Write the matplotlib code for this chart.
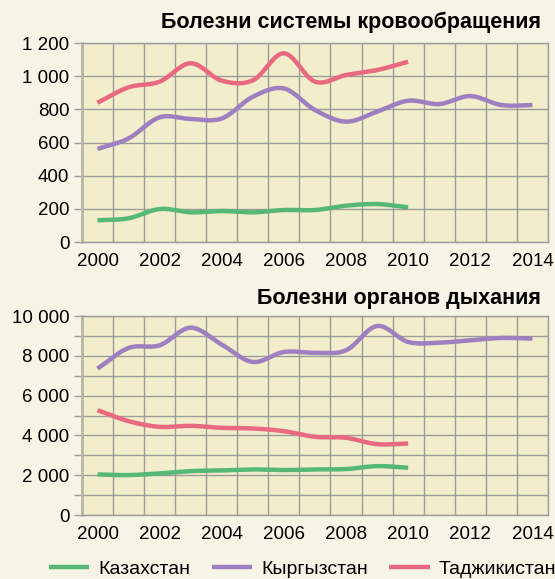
import numpy as np
import matplotlib
matplotlib.use("Agg")
import matplotlib.pyplot as plt

plt.rcParams['font.family'] = ['Liberation Sans', 'DejaVu Sans']

years = np.arange(2000, 2015)
x_labels = [str(y) for y in range(2000, 2015, 2)]

# circulatory diseases
circ_kz = [131, 143, 199, 179, 187, 179, 193, 193, 219, 229, 209]
circ_kg = [561, 625, 752, 742, 745, 876, 926, 796, 726, 786, 852, 832, 880, 826, 826]
circ_tj = [840, 933, 967, 1078, 973, 975, 1138, 967, 1007, 1037, 1087]

# respiratory diseases
resp_kz = [2040, 2007, 2090, 2207, 2241, 2291, 2258, 2291, 2308, 2458, 2375]
resp_kg = [7358, 8395, 8528, 9415, 8562, 7692, 8194, 8150, 8278, 9498, 8696, 8662, 8779, 8896, 8863]
resp_tj = [5268, 4716, 4431, 4482, 4381, 4348, 4214, 3930, 3880, 3562, 3595]

names = ['Казахстан', 'Кыргызстан', 'Таджикистан']
colors = ['#55b874', '#9d80c0', '#e96a80']

bg = '#f6f4e4'
plot_bg = '#f2edcb'
grid_c = '#9c9c9c'


def smooth(x, y, n=20):
    # catmull-rom curve through the points, like excel "smoothed line"
    x = np.asarray(x, float)
    y = np.asarray(y, float)
    px = np.concatenate([[2 * x[0] - x[1]], x, [2 * x[-1] - x[-2]]])
    py = np.concatenate([[2 * y[0] - y[1]], y, [2 * y[-1] - y[-2]]])
    xs, ys = [], []
    t = np.linspace(0, 1, n)
    for i in range(1, len(px) - 2):
        for p, out in ((px, xs), (py, ys)):
            p0, p1, p2, p3 = p[i - 1], p[i], p[i + 1], p[i + 2]
            out.extend(0.5 * (2 * p1 + (-p0 + p2) * t
                              + (2 * p0 - 5 * p1 + 4 * p2 - p3) * t ** 2
                              + (-p0 + 3 * p1 - 3 * p2 + p3) * t ** 3))
    return np.array(xs), np.array(ys)


fig = plt.figure(figsize=(5.55, 5.79), dpi=100, facecolor=bg)
ax1 = fig.add_axes([0.1477, 0.582, 0.8396, 0.3437])
ax2 = fig.add_axes([0.1477, 0.1105, 0.8396, 0.3437])


def style(ax, ymax, step, label_step):
    ax.set_facecolor(plot_bg)
    ax.set_xlim(1999.5, 2014.5)
    ax.set_ylim(0, ymax)
    ax.set_xticks(np.arange(1999.5, 2015, 1), minor=True)
    ax.set_xticks(range(2000, 2015, 2))
    ax.set_xticklabels(x_labels)
    ax.set_yticks(np.arange(0, ymax + 1, step))
    ax.set_yticklabels([f'{v:,}'.replace(',', ' ') if v % label_step == 0 else ''
                        for v in np.arange(0, ymax + 1, step)])
    ax.grid(False)
    ax.grid(which='minor', axis='x', color=grid_c, lw=1.0)
    ax.grid(which='major', axis='y', color=grid_c, lw=1.0)
    ax.tick_params(axis='x', which='both', length=0, labelsize=13.5, pad=8)
    ax.tick_params(axis='y', length=6, color=grid_c, width=1.0, labelsize=13.5, pad=3)
    for s in ['top', 'right', 'bottom']:
        ax.spines[s].set_color(grid_c)
        ax.spines[s].set_linewidth(1.0)
    ax.spines['left'].set_color('#b9b6a6')
    ax.spines['left'].set_linewidth(2.0)
    ax.set_axisbelow(True)


style(ax1, 1200, 200, 200)
style(ax2, 10000, 1000, 2000)

for ax, series in ((ax1, (circ_kz, circ_kg, circ_tj)), (ax2, (resp_kz, resp_kg, resp_tj))):
    for vals, name, c in zip(series, names, colors):
        sx, sy = smooth(years[:len(vals)], vals)
        ax.plot(sx, sy, color=c, lw=3.2, label=name, solid_capstyle='butt')

fig.text(0.975, 0.962, 'Болезни системы кровообращения', ha='right', va='center',
         fontsize=15.5, fontweight='bold')
fig.text(0.975, 0.485, 'Болезни органов дыхания', ha='right', va='center',
         fontsize=15.5, fontweight='bold')

handles, labels = ax1.get_legend_handles_labels()
fig.legend(handles, labels, loc='center', bbox_to_anchor=(0.545, 0.017), ncol=3,
           frameon=False, fontsize=14, handlelength=2.1, handletextpad=0.45,
           columnspacing=1.1, borderaxespad=0, borderpad=0)

fig.savefig('out.png', dpi=100, facecolor=bg)
